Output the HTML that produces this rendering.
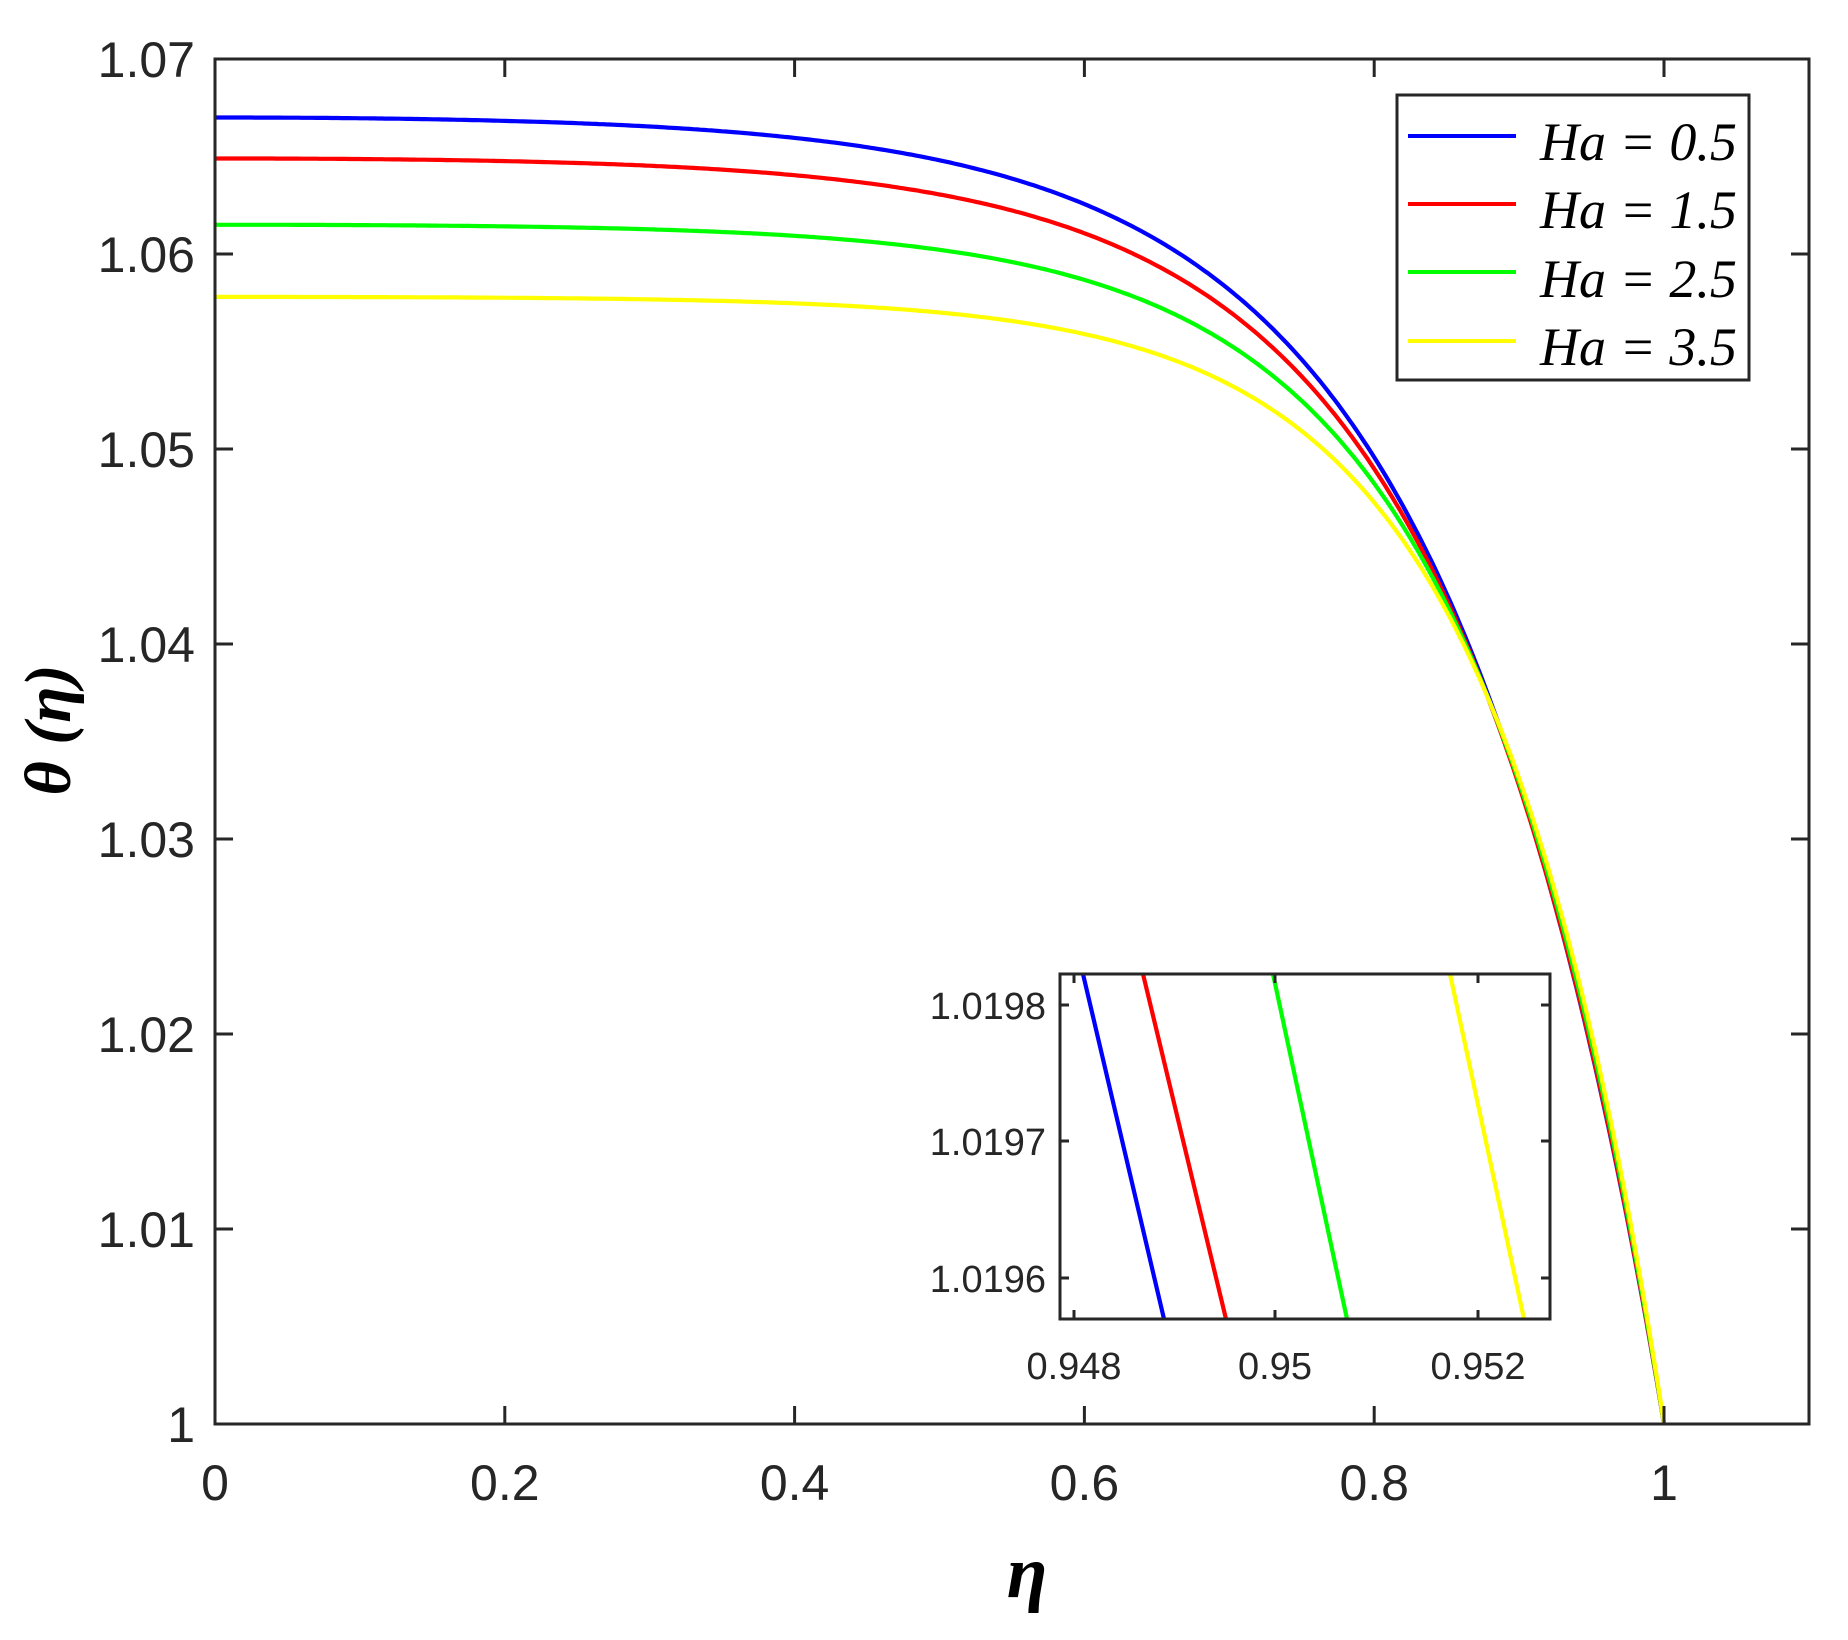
<!DOCTYPE html>
<html><head><meta charset="utf-8"><style>
html,body{margin:0;padding:0;background:#fff;}
svg{display:block}
.t{font-family:"Liberation Sans",sans-serif;fill:#262626}
.s{font-family:"Liberation Serif",serif;font-style:italic;fill:#000}
</style></head><body>
<svg id="c" width="1848" height="1640" viewBox="0 0 1848 1640" xmlns="http://www.w3.org/2000/svg">
<rect width="1848" height="1640" fill="#fff"/>
<g id="curves" fill="none" stroke-width="4.2"></g>
<g stroke="#262626" stroke-width="3" fill="none" id="ax">
<rect x="215" y="59" width="1594" height="1365"/>
</g>
<g class="t" font-size="50" text-anchor="end" id="yl"></g>
<g class="t" font-size="50" text-anchor="middle" id="xl"></g>
<text class="s" font-weight="bold" font-size="66" x="0" y="0" text-anchor="middle" transform="translate(70,730) rotate(-90)">θ (η)</text>
<text class="s" font-weight="bold" font-size="74" x="1027" y="1597" text-anchor="middle">η</text>
<rect x="1060" y="974" width="490" height="345" fill="#fff"/>
<g id="inset" fill="none" stroke-width="4.2"></g>
<g stroke="#262626" stroke-width="3" fill="none" id="iax">
<rect x="1060" y="974" width="490" height="345"/>
</g>
<g class="t" font-size="38" id="il"></g>
<rect x="1397" y="95" width="352" height="285" fill="#fff" stroke="#262626" stroke-width="3"/>
<g stroke-width="4">
<line x1="1408" y1="136" x2="1516" y2="136" stroke="#0000ff"/>
<line x1="1408" y1="204" x2="1516" y2="204" stroke="#ff0000"/>
<line x1="1408" y1="272" x2="1516" y2="272" stroke="#00ff00"/>
<line x1="1408" y1="341" x2="1516" y2="341" stroke="#ffff00"/>
</g>
<g class="s" font-size="54">
<text x="1540" y="160">Ha = 0.5</text>
<text x="1540" y="228">Ha = 1.5</text>
<text x="1540" y="297">Ha = 2.5</text>
<text x="1540" y="365">Ha = 3.5</text>
</g>
</svg>
<script>
var NS="http://www.w3.org/2000/svg";
function el(p,n,a,t){var e=document.createElementNS(NS,n);for(var k in a)e.setAttribute(k,a[k]);if(t!==undefined)e.textContent=t;p.appendChild(e);return e;}
var X=function(x){return 215+x*1449;},Y=function(y){return 1424-(y-1)*19500;};
var ax=document.getElementById('ax');
for(var i=0;i<=5;i++){var x=X(i*0.2);el(ax,'line',{x1:x,y1:1424,x2:x,y2:1406});el(ax,'line',{x1:x,y1:59,x2:x,y2:77});
el(document.getElementById('xl'),'text',{x:x,y:1500},i==0?'0':i==5?'1':(i*0.2).toFixed(1));}
for(var j=0;j<=7;j++){var y=Y(1+j*0.01);el(ax,'line',{x1:215,y1:y,x2:233,y2:y});el(ax,'line',{x1:1809,y1:y,x2:1791,y2:y});
el(document.getElementById('yl'),'text',{x:195,y:y+18},j==0?'1':(1+j*0.01).toFixed(2));}
var ser=[["#0000ff",0.0670,6.7],["#ff0000",0.0649,7.0],["#00ff00",0.0615,7.65],["#ffff00",0.0578,8.5]];
var g=document.getElementById('curves');
ser.forEach(function(s){var d="";for(var n=0;n<=400;n++){var e=n/400;var f=1-(Math.cosh(s[2]*e)-1)/(Math.cosh(s[2])-1);var v=1+s[1]*f;d+=(n?"L":"M")+X(e).toFixed(1)+" "+Y(v).toFixed(1);}el(g,'path',{d:d,stroke:s[0]});});
var ig=document.getElementById('inset');
[["#0000ff",1083,1164],["#ff0000",1143,1226],["#00ff00",1273,1347],["#ffff00",1450,1524]].forEach(function(s){el(ig,'line',{x1:s[1],y1:974,x2:s[2],y2:1319,stroke:s[0]});});
var iax=document.getElementById('iax'),il=document.getElementById('il');
[[1074,'0.948'],[1275,'0.95'],[1478,'0.952']].forEach(function(t){el(iax,'line',{x1:t[0],y1:1319,x2:t[0],y2:1310});el(iax,'line',{x1:t[0],y1:974,x2:t[0],y2:983});el(il,'text',{x:t[0],y:1379,'text-anchor':'middle'},t[1]);});
[[1005,'1.0198'],[1141,'1.0197'],[1278,'1.0196']].forEach(function(t){el(iax,'line',{x1:1060,y1:t[0],x2:1069,y2:t[0]});el(iax,'line',{x1:1550,y1:t[0],x2:1541,y2:t[0]});el(il,'text',{x:1046,y:t[0]+14,'text-anchor':'end'},t[1]);});
</script>
</body></html>
